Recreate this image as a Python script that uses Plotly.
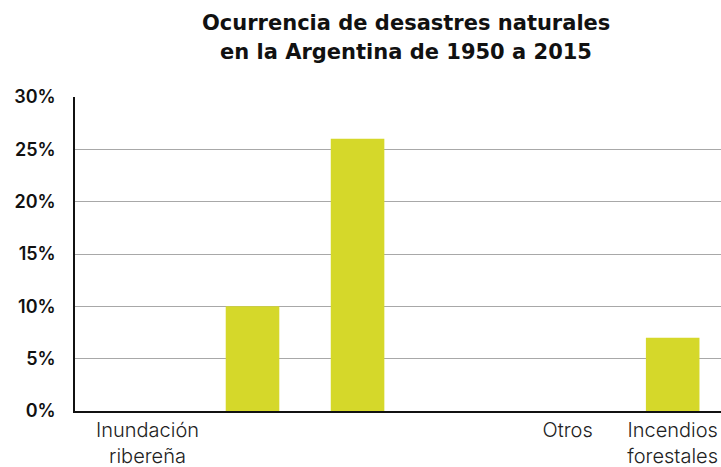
import plotly.graph_objects as go

# categories (some labels are blank in the source picture)
categories = ["Inundación<br>ribereña", "", "", "", "Otros", "Incendios<br>forestales"]
values = [0, 10, 26, 0, 0, 7]
y_ticks = [0, 5, 10, 15, 20, 25, 30]
y_labels = ["0%", "5%", "10%", "15%", "20%", "25%", "30%"]
title_lines = ["Ocurrencia de desastres naturales", "en la Argentina de 1950 a 2015"]

positions = list(range(len(categories)))

fig = go.Figure()
fig.add_trace(go.Bar(
    x=positions,
    y=values,
    width=0.51,
    marker=dict(color="#D5D82A", line=dict(width=0)),
    hoverinfo="skip",
))

# title as two annotations so the line gap can match
for line, ypos in zip(title_lines, [1.236, 1.143]):
    fig.add_annotation(
        text="<b>" + line + "</b>",
        xref="paper", yref="paper",
        x=(406 - 75) / 646, y=ypos,
        xanchor="center", yanchor="middle",
        showarrow=False,
        font=dict(family="DejaVu Sans", size=21, color="#111111"),
    )

fig.update_layout(
    width=721,
    height=467,
    margin={"l": 75, "r": 0, "t": 97, "b": 56},
    plot_bgcolor="white",
    paper_bgcolor="white",
    showlegend=False,
    font=dict(family="Inter", color="#111111"),
)

fig.update_xaxes(
    range=[-0.69, 5.46],
    tickvals=positions,
    ticktext=categories,
    showgrid=False,
    zeroline=False,
    showline=True,
    linecolor="#111111",
    linewidth=2,
    ticks="",
    tickfont=dict(family="Inter", size=20, color="#222222", weight=300),
)

fig.update_yaxes(
    range=[0, 30],
    tickvals=y_ticks,
    ticktext=y_labels,
    showgrid=True,
    gridcolor="#A8A8A8",
    gridwidth=1,
    zeroline=False,
    showline=True,
    linecolor="#111111",
    linewidth=1.5,
    ticks="",
    ticklabelstandoff=14,
    tickfont=dict(family="Inter", size=18, color="#111111", weight=600),
)

fig.write_html("out.html", config={"displayModeBar": False},
               post_script="document.body.style.margin='0';")
